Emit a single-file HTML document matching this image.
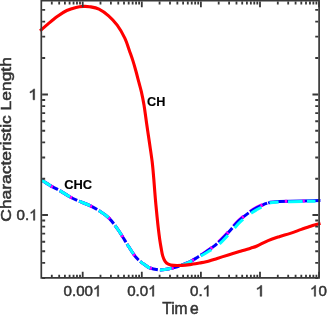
<!DOCTYPE html>
<html><head><meta charset="utf-8"><title>plot</title>
<style>html,body{margin:0;padding:0;background:#fff;overflow:hidden}body{width:327px;height:315px;position:relative;font-family:"Liberation Sans",sans-serif}</style>
</head><body>
<svg width="327" height="315" viewBox="0 0 327 315" style="position:absolute;left:0;top:0;display:block;will-change:transform">
<rect width="327" height="315" fill="#fff"/>
<clipPath id="cp"><rect x="41.2" y="0" width="279.3" height="315"/></clipPath><g clip-path="url(#cp)">
<path d="M40.80 179.60 C42.45 180.65 47.67 184.13 50.70 185.90 C53.73 187.67 55.83 188.40 59.00 190.20 C62.17 192.00 66.37 194.88 69.70 196.70 C73.03 198.52 75.62 199.60 79.00 201.10 C82.38 202.60 86.58 204.05 90.00 205.70 C93.42 207.35 96.33 208.93 99.50 211.00 C102.67 213.07 105.82 214.85 109.00 218.10 C112.18 221.35 115.42 225.90 118.60 230.50 C121.78 235.10 125.08 241.10 128.10 245.70 C131.12 250.30 133.70 254.77 136.70 258.10 C139.70 261.43 143.88 264.05 146.10 265.70 C148.32 267.35 148.03 267.33 150.00 268.00 C151.97 268.67 155.78 269.40 157.90 269.70 C160.02 270.00 160.85 269.97 162.70 269.80 C164.55 269.63 166.88 269.12 169.00 268.70 C171.12 268.28 173.28 267.90 175.40 267.30 C177.52 266.70 179.32 266.00 181.70 265.10 C184.08 264.20 187.06 263.22 189.70 261.90 C192.34 260.58 194.85 258.88 197.53 257.19 C200.22 255.49 202.63 253.99 205.79 251.74 C208.96 249.48 212.92 246.83 216.55 243.64 C220.18 240.45 223.88 236.49 227.58 232.61 C231.27 228.73 234.97 223.91 238.71 220.37 C242.45 216.84 247.04 213.55 250.01 211.39 C252.98 209.23 254.29 208.62 256.52 207.42 C258.74 206.23 261.60 204.98 263.35 204.24 C265.11 203.49 266.43 203.16 267.04 202.95" stroke="#ff00ff" stroke-width="3.0" fill="none" stroke-dasharray="14 8"/>
<path d="M40.80 179.60 C42.45 180.65 47.67 184.13 50.70 185.90 C53.73 187.67 55.83 188.40 59.00 190.20 C62.17 192.00 66.37 194.88 69.70 196.70 C73.03 198.52 75.62 199.60 79.00 201.10 C82.38 202.60 86.58 204.05 90.00 205.70 C93.42 207.35 96.33 208.93 99.50 211.00 C102.67 213.07 105.82 214.85 109.00 218.10 C112.18 221.35 115.42 225.90 118.60 230.50 C121.78 235.10 125.08 241.10 128.10 245.70 C131.12 250.30 133.70 254.77 136.70 258.10 C139.70 261.43 143.88 264.05 146.10 265.70 C148.32 267.35 148.03 267.33 150.00 268.00 C151.97 268.67 155.78 269.40 157.90 269.70 C160.02 270.00 160.85 269.97 162.70 269.80 C164.55 269.63 166.88 269.12 169.00 268.70 C171.12 268.28 173.28 267.90 175.40 267.30 C177.52 266.70 179.32 266.00 181.70 265.10 C184.08 264.20 187.06 263.21 189.70 261.90 C192.34 260.59 194.86 258.90 197.56 257.23 C200.26 255.57 202.71 254.14 205.92 251.92 C209.13 249.71 213.15 247.12 216.81 243.94 C220.47 240.77 224.17 236.77 227.87 232.89 C231.56 229.01 235.26 224.19 238.99 220.66 C242.72 217.14 247.29 213.86 250.25 211.71 C253.20 209.57 254.50 208.97 256.71 207.77 C258.92 206.58 261.75 205.30 263.49 204.54 C265.23 203.78 266.54 203.44 267.14 203.22" stroke="#0000ff" stroke-width="3.0" fill="none" stroke-dasharray="20 2"/>
<path d="M40.80 179.60 C42.45 180.65 47.67 184.13 50.70 185.90 C53.73 187.67 55.83 188.40 59.00 190.20 C62.17 192.00 66.37 194.88 69.70 196.70 C73.03 198.52 75.62 199.60 79.00 201.10 C82.38 202.60 86.58 204.05 90.00 205.70 C93.42 207.35 96.33 208.93 99.50 211.00 C102.67 213.07 105.82 214.85 109.00 218.10 C112.18 221.35 115.42 225.90 118.60 230.50 C121.78 235.10 125.08 241.10 128.10 245.70 C131.12 250.30 133.70 254.77 136.70 258.10 C139.70 261.43 143.88 264.05 146.10 265.70 C148.32 267.35 148.03 267.33 150.00 268.00 C151.97 268.67 155.78 269.40 157.90 269.70 C160.02 270.00 160.85 269.97 162.70 269.80 C164.55 269.63 166.88 269.12 169.00 268.70 C171.12 268.28 173.28 267.90 175.40 267.30 C177.52 266.70 179.32 266.00 181.70 265.10 C184.08 264.20 187.06 263.21 189.70 261.90 C192.34 260.59 194.86 258.90 197.56 257.23 C200.26 255.57 202.71 254.14 205.92 251.92 C209.13 249.71 213.15 247.12 216.81 243.94 C220.47 240.77 224.17 236.77 227.87 232.89 C231.56 229.01 235.26 224.19 238.99 220.66 C242.72 217.14 247.29 213.86 250.25 211.71 C253.20 209.57 254.50 208.97 256.71 207.77 C258.92 206.58 261.75 205.30 263.49 204.54 C265.23 203.78 266.54 203.44 267.14 203.22" stroke="#ff00ff" stroke-width="3.0" fill="none" stroke-dasharray="0 12 2 8"/>
<path d="M40.80 179.60 C42.45 180.65 47.67 184.13 50.70 185.90 C53.73 187.67 55.83 188.40 59.00 190.20 C62.17 192.00 66.37 194.88 69.70 196.70 C73.03 198.52 75.62 199.60 79.00 201.10 C82.38 202.60 86.58 204.05 90.00 205.70 C93.42 207.35 96.33 208.93 99.50 211.00 C102.67 213.07 105.82 214.85 109.00 218.10 C112.18 221.35 115.42 225.90 118.60 230.50 C121.78 235.10 125.08 241.10 128.10 245.70 C131.12 250.30 133.70 254.77 136.70 258.10 C139.70 261.43 143.88 264.05 146.10 265.70 C148.32 267.35 148.03 267.33 150.00 268.00 C151.97 268.67 155.78 269.40 157.90 269.70 C160.02 270.00 160.85 269.97 162.70 269.80 C164.55 269.63 166.88 269.12 169.00 268.70 C171.12 268.28 173.28 267.90 175.40 267.30 C177.52 266.70 179.32 266.00 181.70 265.10 C184.08 264.20 187.04 263.18 189.70 261.90 C192.36 260.62 194.88 258.96 197.68 257.43 C200.47 255.90 203.07 254.76 206.45 252.73 C209.83 250.71 214.17 248.38 217.95 245.28 C221.73 242.17 225.43 237.98 229.13 234.09 C232.84 230.20 236.50 225.43 240.19 221.94 C243.88 218.44 248.38 215.23 251.28 213.13 C254.17 211.03 255.42 210.52 257.55 209.31 C259.69 208.10 262.42 206.69 264.10 205.88 C265.77 205.06 267.02 204.67 267.60 204.43" stroke="#00ffff" stroke-width="3.0" fill="none" stroke-dasharray="12 10"/>
</g>
<path d="M268.20 203.05 L270.30 202.25 L279.20 201.45 L290.30 201.15 L301.40 200.95 L312.60 200.75 L320.30 200.55 L320.40 200.55" stroke="#0000ff" stroke-width="3.0" fill="none"/>
<path d="M284.80 201.35 L287.20 201.28" stroke="#ff00ff" stroke-width="3.0" fill="none"/>
<path d="M302.60 200.98 L304.80 200.94" stroke="#ff00ff" stroke-width="3.0" fill="none"/>
<path d="M269.60 203.02 L270.30 202.75 L278.60 202.00" stroke="#00ffff" stroke-width="3.0" fill="none"/>
<path d="M288.00 201.71 L290.30 201.65 L301.40 201.45 L302.60 201.43" stroke="#00ffff" stroke-width="3.0" fill="none"/>
<path d="M307.00 201.35 L312.60 201.25 L315.50 201.17" stroke="#00ffff" stroke-width="3.0" fill="none"/>
<path d="M40.10 30.90 C41.48 29.68 45.48 26.05 48.40 23.60 C51.32 21.15 54.53 18.38 57.60 16.20 C60.67 14.02 63.73 11.97 66.80 10.50 C69.87 9.03 73.23 8.08 76.00 7.40 C78.77 6.72 81.15 6.52 83.40 6.40 C85.65 6.28 86.90 6.25 89.50 6.70 C92.10 7.15 95.82 7.57 99.00 9.10 C102.18 10.63 105.57 13.22 108.60 15.90 C111.63 18.58 114.50 21.50 117.20 25.20 C119.90 28.90 122.73 33.77 124.80 38.10 C126.87 42.43 128.27 47.48 129.60 51.20 C130.93 54.92 131.75 57.10 132.80 60.40 C133.85 63.70 134.88 67.33 135.90 71.00 C136.92 74.67 137.98 78.92 138.90 82.40 C139.82 85.88 140.55 88.13 141.40 91.90 C142.25 95.67 143.12 99.65 144.00 105.00 C144.88 110.35 145.78 117.65 146.70 124.00 C147.62 130.35 148.58 136.77 149.50 143.10 C150.42 149.43 151.48 156.02 152.20 162.00 C152.92 167.98 153.28 172.98 153.80 179.00 C154.32 185.02 154.75 191.77 155.30 198.10 C155.85 204.43 156.60 211.97 157.10 217.00 C157.60 222.03 157.85 224.47 158.30 228.30 C158.75 232.13 159.33 236.73 159.80 240.00 C160.27 243.27 160.62 245.25 161.10 247.90 C161.58 250.55 162.03 253.65 162.70 255.90 C163.37 258.15 164.17 260.03 165.10 261.40 C166.03 262.77 166.85 263.43 168.30 264.10 C169.75 264.77 171.57 265.18 173.80 265.40 C176.03 265.62 179.05 265.53 181.70 265.40 C184.35 265.27 186.73 265.00 189.70 264.60 C192.67 264.20 196.77 263.47 199.50 263.00 C202.23 262.53 203.15 262.57 206.10 261.80 C209.05 261.03 213.50 259.55 217.20 258.40 C220.90 257.25 224.60 256.03 228.30 254.90 C232.00 253.77 235.68 252.72 239.40 251.60 C243.12 250.48 247.67 249.13 250.60 248.20 C253.53 247.27 254.08 247.27 257.00 246.00 C259.92 244.73 264.40 242.15 268.10 240.60 C271.80 239.05 275.50 237.90 279.20 236.70 C282.90 235.50 286.60 234.62 290.30 233.40 C294.00 232.18 297.68 230.73 301.40 229.40 C305.12 228.07 309.42 226.42 312.60 225.40 C315.78 224.38 319.18 223.65 320.50 223.30" stroke="#ff0000" stroke-width="3.1" fill="none" stroke-linejoin="round"/>
<path d="M51.80 277.05V274.75M51.80 1.45V4.45M59.18 277.05V274.75M59.18 1.45V4.45M64.91 277.05V274.75M64.91 1.45V4.45M69.59 277.05V274.75M69.59 1.45V4.45M73.55 277.05V274.75M73.55 1.45V4.45M76.97 277.05V274.75M76.97 1.45V4.45M80.00 277.05V274.75M80.00 1.45V4.45M82.70 277.05V271.75M82.70 1.45V7.25M100.49 277.05V274.75M100.49 1.45V4.45M110.90 277.05V274.75M110.90 1.45V4.45M118.28 277.05V274.75M118.28 1.45V4.45M124.01 277.05V274.75M124.01 1.45V4.45M128.69 277.05V274.75M128.69 1.45V4.45M132.65 277.05V274.75M132.65 1.45V4.45M136.07 277.05V274.75M136.07 1.45V4.45M139.10 277.05V274.75M139.10 1.45V4.45M141.80 277.05V271.75M141.80 1.45V7.25M159.59 277.05V274.75M159.59 1.45V4.45M170.00 277.05V274.75M170.00 1.45V4.45M177.38 277.05V274.75M177.38 1.45V4.45M183.11 277.05V274.75M183.11 1.45V4.45M187.79 277.05V274.75M187.79 1.45V4.45M191.75 277.05V274.75M191.75 1.45V4.45M195.17 277.05V274.75M195.17 1.45V4.45M198.20 277.05V274.75M198.20 1.45V4.45M200.90 277.05V271.75M200.90 1.45V7.25M218.69 277.05V274.75M218.69 1.45V4.45M229.10 277.05V274.75M229.10 1.45V4.45M236.48 277.05V274.75M236.48 1.45V4.45M242.21 277.05V274.75M242.21 1.45V4.45M246.89 277.05V274.75M246.89 1.45V4.45M250.85 277.05V274.75M250.85 1.45V4.45M254.27 277.05V274.75M254.27 1.45V4.45M257.30 277.05V274.75M257.30 1.45V4.45M260.00 277.05V271.75M260.00 1.45V7.25M277.79 277.05V274.75M277.79 1.45V4.45M288.20 277.05V274.75M288.20 1.45V4.45M295.58 277.05V274.75M295.58 1.45V4.45M301.31 277.05V274.75M301.31 1.45V4.45M305.99 277.05V274.75M305.99 1.45V4.45M309.95 277.05V274.75M309.95 1.45V4.45M313.37 277.05V274.75M313.37 1.45V4.45M316.40 277.05V274.75M316.40 1.45V4.45M319.10 277.05V271.75M319.10 1.45V7.25M42.15 278.01H45.15M318.25 278.01H315.25M42.15 262.95H45.15M318.25 262.95H315.25M42.15 251.27H45.15M318.25 251.27H315.25M42.15 241.73H45.15M318.25 241.73H315.25M42.15 233.67H45.15M318.25 233.67H315.25M42.15 226.68H45.15M318.25 226.68H315.25M42.15 220.51H45.15M318.25 220.51H315.25M42.15 215.00H47.95M318.25 215.00H312.45M42.15 178.73H45.15M318.25 178.73H315.25M42.15 157.51H45.15M318.25 157.51H315.25M42.15 142.45H45.15M318.25 142.45H315.25M42.15 130.77H45.15M318.25 130.77H315.25M42.15 121.23H45.15M318.25 121.23H315.25M42.15 113.17H45.15M318.25 113.17H315.25M42.15 106.18H45.15M318.25 106.18H315.25M42.15 100.01H45.15M318.25 100.01H315.25M42.15 94.50H47.95M318.25 94.50H312.45M42.15 58.02H45.15M318.25 58.02H315.25M42.15 36.67H45.15M318.25 36.67H315.25M42.15 21.53H45.15M318.25 21.53H315.25M42.15 9.78H45.15M318.25 9.78H315.25M42.15 0.19H45.15M318.25 0.19H315.25" stroke="#383838" stroke-width="1.80" fill="none"/>
<path d="M40.45 0.60H319.95M40.45 277.90H319.95M41.30 -0.25V278.75M319.10 -0.25V278.75" stroke="#383838" stroke-width="1.70" fill="none"/>
<text transform="translate(63.61 296.30) scale(1.000 1)" font-family="Liberation Sans, sans-serif" font-size="15.10" font-weight="normal" text-anchor="start" fill="#333333" stroke="#333333" stroke-width="0.50">0.00</text>
<path transform="translate(93.00 296.30) scale(0.00737 -0.00737)" d="M763 0H583V1147Q518 1085 412.5 1023Q307 961 223 930V1104Q374 1175 487 1276Q600 1377 647 1472H763Z" fill="#333333" stroke="#333333" stroke-width="67.8"/>
<text transform="translate(127.21 296.30) scale(1.000 1)" font-family="Liberation Sans, sans-serif" font-size="15.10" font-weight="normal" text-anchor="start" fill="#333333" stroke="#333333" stroke-width="0.50">0.0</text>
<path transform="translate(148.20 296.30) scale(0.00737 -0.00737)" d="M763 0H583V1147Q518 1085 412.5 1023Q307 961 223 930V1104Q374 1175 487 1276Q600 1377 647 1472H763Z" fill="#333333" stroke="#333333" stroke-width="67.8"/>
<text transform="translate(190.10 296.30) scale(1.000 1)" font-family="Liberation Sans, sans-serif" font-size="15.10" font-weight="normal" text-anchor="start" fill="#333333" stroke="#333333" stroke-width="0.50">0.</text>
<path transform="translate(202.70 296.30) scale(0.00737 -0.00737)" d="M763 0H583V1147Q518 1085 412.5 1023Q307 961 223 930V1104Q374 1175 487 1276Q600 1377 647 1472H763Z" fill="#333333" stroke="#333333" stroke-width="67.8"/>
<path transform="translate(255.27 296.30) scale(0.00848 -0.00737)" d="M763 0H583V1147Q518 1085 412.5 1023Q307 961 223 930V1104Q374 1175 487 1276Q600 1377 647 1472H763Z" fill="#333333" stroke="#333333" stroke-width="67.8"/>
<path transform="translate(310.00 296.30) scale(0.00737 -0.00737)" d="M763 0H583V1147Q518 1085 412.5 1023Q307 961 223 930V1104Q374 1175 487 1276Q600 1377 647 1472H763Z" fill="#333333" stroke="#333333" stroke-width="67.8"/>
<text transform="translate(318.40 296.30) scale(1.000 1)" font-family="Liberation Sans, sans-serif" font-size="15.10" font-weight="normal" text-anchor="start" fill="#333333" stroke="#333333" stroke-width="0.50">0</text>
<path transform="translate(28.14 99.80) scale(0.00848 -0.00737)" d="M763 0H583V1147Q518 1085 412.5 1023Q307 961 223 930V1104Q374 1175 487 1276Q600 1377 647 1472H763Z" fill="#333333" stroke="#333333" stroke-width="67.8"/>
<text transform="translate(16.61 220.30) scale(1.000 1)" font-family="Liberation Sans, sans-serif" font-size="15.10" font-weight="normal" text-anchor="start" fill="#333333" stroke="#333333" stroke-width="0.50">0.</text>
<path transform="translate(29.20 220.30) scale(0.00737 -0.00737)" d="M763 0H583V1147Q518 1085 412.5 1023Q307 961 223 930V1104Q374 1175 487 1276Q600 1377 647 1472H763Z" fill="#333333" stroke="#333333" stroke-width="67.8"/>
<text transform="translate(162.20 313.60) scale(1.000 1)" font-family="Liberation Sans, sans-serif" font-size="15.60" font-weight="normal" text-anchor="start" fill="#333333" stroke="#333333" stroke-width="0.50">Tim<tspan dx="2.4">e</tspan></text>
<text transform="translate(11.4 139.4) rotate(-90) scale(1.245 1)" font-family="Liberation Sans, sans-serif" font-size="14" text-anchor="middle" fill="#333333" stroke="#333333" stroke-width="0.5">Characteristic Length</text>
<text transform="translate(147.00 106.20) scale(0.940 1)" font-family="Liberation Sans, sans-serif" font-size="13.50" font-weight="bold" text-anchor="start" fill="#000" stroke="#000" stroke-width="0.15">CH</text>
<text transform="translate(64.20 189.00) scale(0.955 1)" font-family="Liberation Sans, sans-serif" font-size="13.50" font-weight="bold" text-anchor="start" fill="#000" stroke="#000" stroke-width="0.15">CHC</text>
</svg>
</body></html>
